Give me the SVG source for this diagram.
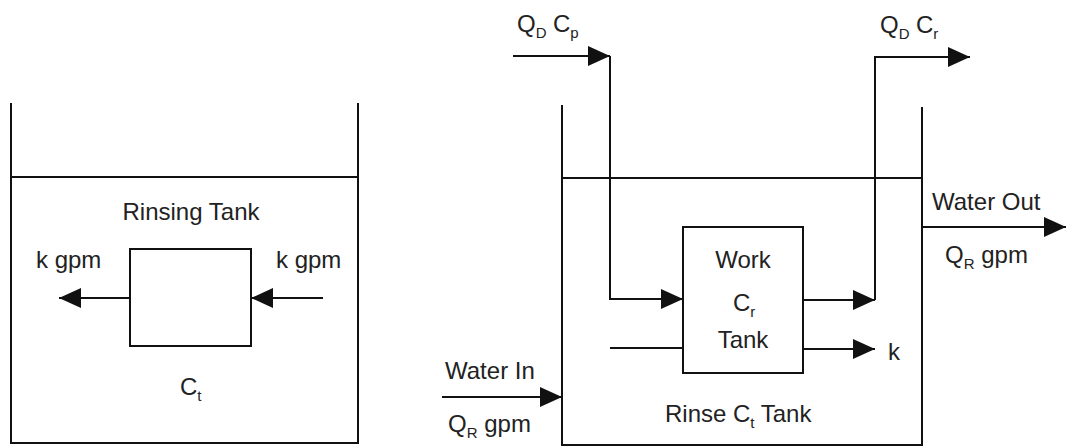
<svg xmlns="http://www.w3.org/2000/svg" width="1067" height="446" viewBox="0 0 1067 446">
<style>
.ln{stroke:#111;stroke-width:2;fill:none}
.bx{stroke:#111;stroke-width:2;fill:none}
text{font-family:"Liberation Sans",Arial,sans-serif;font-size:24px;fill:#222}
.sub{font-size:15px}
</style>
<defs>
<marker id="ah" markerUnits="userSpaceOnUse" markerWidth="22" markerHeight="20" refX="22" refY="10" orient="auto">
<path d="M0,0 L22,10 L0,20 z" fill="#111"/>
</marker>
</defs>
<rect width="1067" height="446" fill="#fff"/>

<g id="rinsing-tank">
<path class="ln" d="M11,103 V443 H358 V103"/>
<line class="ln" x1="11" y1="177" x2="358" y2="177"/>
<text x="191" y="220" text-anchor="middle">Rinsing Tank</text>
<text x="180" y="395">C<tspan class="sub" dy="6">t</tspan></text>
</g>

<g id="small-box">
<rect class="bx" x="130" y="249" width="121" height="97"/>
</g>

<g id="left-labels">
<text x="36" y="268">k gpm</text>
<text x="276" y="268">k gpm</text>
</g>

<g id="rinse-tank">
<path class="ln" d="M562,105 V445 H922 V107"/>
<line class="ln" x1="562" y1="178" x2="922" y2="178"/>
<text x="665" y="422">Rinse C<tspan class="sub" dy="6">t</tspan><tspan dy="-6"> Tank</tspan></text>
</g>

<g id="work-tank">
<rect class="bx" x="683" y="227" width="120" height="146"/>
<text x="743" y="268" text-anchor="middle">Work</text>
<text x="733" y="311">C<tspan class="sub" dy="6">r</tspan></text>
<text x="743" y="348" text-anchor="middle">Tank</text>
</g>

<g id="flow-labels">
<text x="517" y="32">Q<tspan class="sub" dy="6">D</tspan><tspan x="553" dy="-6">C</tspan><tspan class="sub" dy="6">p</tspan></text>
<text x="880" y="33">Q<tspan class="sub" dy="6">D</tspan><tspan x="916" dy="-6">C</tspan><tspan class="sub" dy="6">r</tspan></text>
<text x="932" y="210">Water Out</text>
<text x="945" y="263">Q<tspan class="sub" dy="6">R</tspan><tspan dy="-6"> gpm</tspan></text>
<text x="445" y="379">Water In</text>
<text x="448" y="432">Q<tspan class="sub" dy="6">R</tspan><tspan dy="-6"> gpm</tspan></text>
<text x="888" y="360">k</text>
</g>

<g id="connectors">
<line class="ln" x1="130" y1="298" x2="59" y2="298" marker-end="url(#ah)"/>
<line class="ln" x1="323" y1="298" x2="251" y2="298" marker-end="url(#ah)"/>
<line class="ln" x1="513" y1="56" x2="610" y2="56" marker-end="url(#ah)"/>
<polyline class="ln" points="610,56 610,299 683,299" marker-end="url(#ah)"/>
<line class="ln" x1="803" y1="300" x2="875" y2="300" marker-end="url(#ah)"/>
<polyline class="ln" points="875,300 875,57 970,57" marker-end="url(#ah)"/>
<line class="ln" x1="610" y1="348" x2="683" y2="348"/>
<line class="ln" x1="803" y1="349" x2="875" y2="349" marker-end="url(#ah)"/>
<line class="ln" x1="442" y1="397" x2="562" y2="397" marker-end="url(#ah)"/>
<line class="ln" x1="922" y1="227" x2="1066" y2="227" marker-end="url(#ah)"/>
</g>
</svg>
